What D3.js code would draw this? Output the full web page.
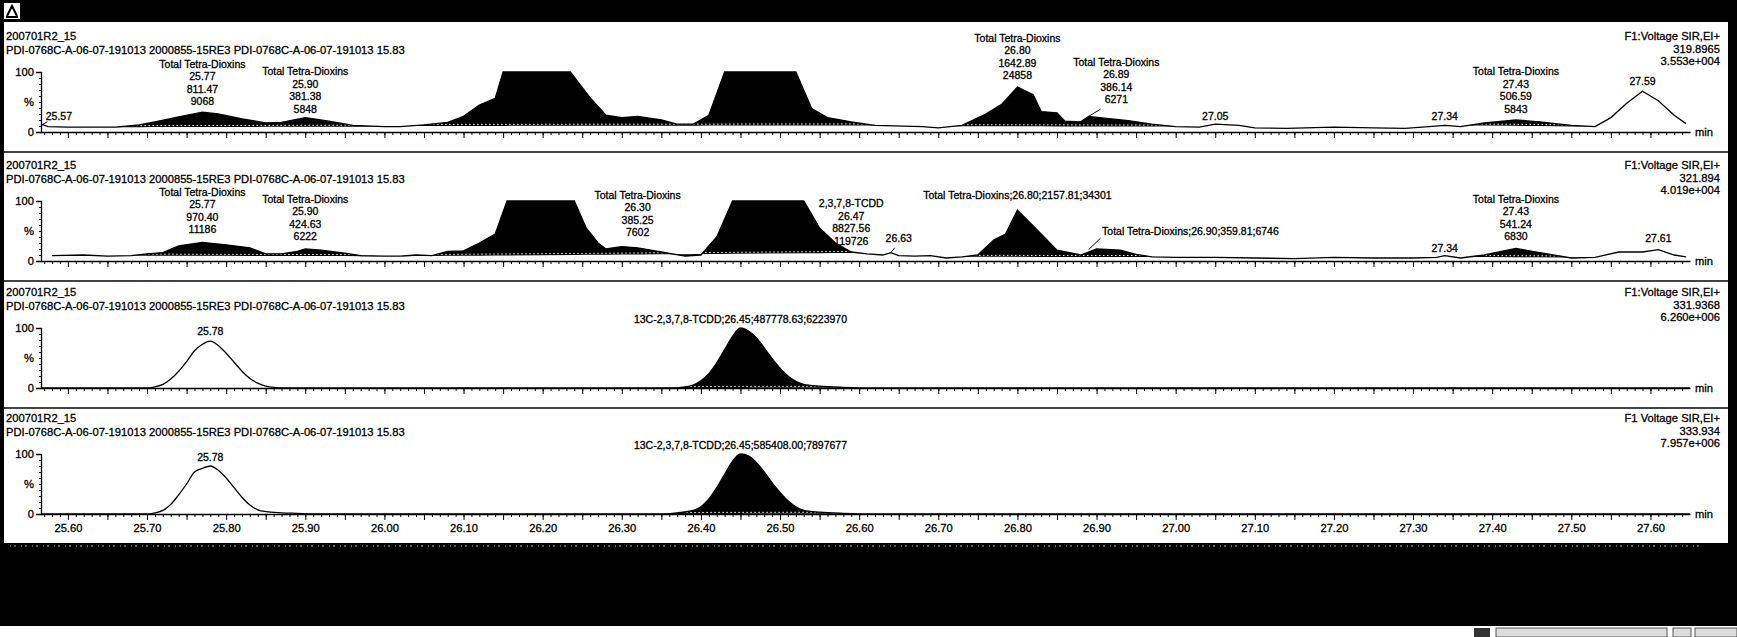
<!DOCTYPE html>
<html>
<head>
<meta charset="utf-8">
<title>SIR chromatogram - Total Tetra-Dioxins</title>
<style>
body { margin: 0; background: #fff; }
text { font-family: "Liberation Sans", Arial, sans-serif; font-size: 11.2px; fill: #000; stroke: #000; stroke-width: 0.3px; }
.pk { font-size: 10.5px; }
</style>
</head>
<body>
<svg id="chart" width="1737" height="637"></svg>

<script src="https://cdnjs.cloudflare.com/ajax/libs/d3/7.8.5/d3.min.js"></script>
<script>
// header texts
var sampleName = "200701R2_15"
var sampleDesc = "PDI-0768C-A-06-07-191013 2000855-15RE3 PDI-0768C-A-06-07-191013 15.83"
var channelNames = ["F1:Voltage SIR,EI+", "F1:Voltage SIR,EI+", "F1:Voltage SIR,EI+", "F1 Voltage SIR,EI+"]
var masses = ["319.8965", "321.894", "331.9368", "333.934"]
var maxIntensity = ["3.553e+004", "4.019e+004", "6.260e+006", "7.957e+006"]

// retention time axis (min)
var timeDomain = [25.566, 27.65]
var timeTicks = ["25.60", "25.70", "25.80", "25.90", "26.00", "26.10", "26.20", "26.30", "26.40", "26.50",
  "26.60", "26.70", "26.80", "26.90", "27.00", "27.10", "27.20", "27.30", "27.40", "27.50", "27.60"]

// traces: [time, relative intensity %]
var trace1 = [[25.566,13],[25.575,9],[25.60,8],[25.63,8],[25.66,8],[25.69,12],[25.71,17],[25.74,25],[25.77,33],
  [25.79,30],[25.82,22],[25.85,15],[25.87,16],[25.90,24],[25.93,18],[25.96,11],[26.00,9],[26.02,9],[26.05,12],
  [26.08,16],[26.10,26],[26.12,45],[26.14,56],[26.15,100],[26.235,100],[26.26,57],[26.28,28],[26.30,24],[26.32,26],
  [26.35,20],[26.37,13],[26.39,13],[26.41,28],[26.43,100],[26.52,100],[26.54,39],[26.56,24],[26.59,17],[26.62,11],
  [26.68,9],[26.70,7],[26.73,11],[26.76,30],[26.78,46],[26.80,75],[26.82,62],[26.83,34],[26.85,32],[26.86,18],
  [26.88,17],[26.89,26],[26.91,23],[26.94,19],[26.97,13],[27.00,9],[27.03,8],[27.05,13],[27.08,11],[27.10,7],
  [27.14,6],[27.20,8],[27.25,7],[27.29,6],[27.32,9],[27.34,11],[27.36,9],[27.39,15],[27.43,20],[27.46,17],
  [27.50,11],[27.53,9],[27.55,24],[27.57,48],[27.59,68],[27.61,52],[27.63,28],[27.645,14]]
var trace2 = [[25.58,9],[25.62,10],[25.65,8],[25.68,9],[25.70,12],[25.72,14],[25.74,25],[25.77,31],[25.80,27],
  [25.83,22],[25.85,12],[25.87,12],[25.89,16],[25.90,20],[25.92,18],[25.95,13],[25.97,9],[26.00,8],[26.02,8],
  [26.04,10],[26.06,9],[26.08,16],[26.10,17],[26.12,30],[26.14,45],[26.155,100],[26.24,100],[26.255,55],[26.27,30],
  [26.28,20],[26.30,24],[26.32,22],[26.35,15],[26.38,8],[26.40,10],[26.42,40],[26.44,100],[26.53,100],[26.55,55],
  [26.57,30],[26.59,15],[26.61,12],[26.63,10],[26.64,14],[26.65,9],[26.67,8],[26.69,9],[26.71,5],[26.73,7],
  [26.75,10],[26.77,35],[26.785,45],[26.80,85],[26.83,45],[26.85,18],[26.88,10],[26.90,20],[26.93,18],[26.95,11],
  [26.97,7],[27.00,6],[27.05,6],[27.10,5],[27.15,4],[27.20,6],[27.25,5],[27.30,5],[27.33,6],[27.34,9],[27.36,5],
  [27.39,10],[27.43,21],[27.46,14],[27.50,5],[27.53,6],[27.56,15],[27.59,15],[27.61,19],[27.63,10],[27.645,7]]
var trace3 = [[25.566,0],[25.70,0],[25.71,2],[25.72,6],[25.73,15],[25.74,28],[25.75,44],[25.76,62],[25.77,73],
  [25.78,78],[25.79,71],[25.80,58],[25.81,43],[25.82,28],[25.83,16],[25.84,8],[25.85,3],[25.86,1],[25.88,0],
  [26.36,0],[26.38,2],[26.39,5],[26.40,12],[26.41,24],[26.42,42],[26.43,64],[26.44,86],[26.45,100],[26.46,95],
  [26.47,84],[26.48,67],[26.49,49],[26.50,33],[26.51,20],[26.52,11],[26.53,6],[26.55,3],[26.58,1],[26.62,0],[27.65,0]]
var trace4 = [[25.566,0],[25.70,0],[25.71,2],[25.72,6],[25.73,16],[25.74,32],[25.75,50],[25.76,70],[25.77,76],
  [25.78,80],[25.79,73],[25.80,60],[25.81,44],[25.82,28],[25.83,15],[25.84,7],[25.85,4],[25.87,2],[25.89,1],[25.91,0],
  [26.35,0],[26.37,2],[26.39,6],[26.40,12],[26.41,25],[26.42,44],[26.43,66],[26.44,88],[26.45,100],[26.46,97],
  [26.47,86],[26.48,70],[26.49,52],[26.50,36],[26.51,22],[26.52,12],[26.53,6],[26.55,3],[26.58,1],[26.62,0],[27.65,0]]

// integrated (filled) time ranges
var fills1 = [[25.66, 26.00], [26.03, 26.62], [26.72, 27.00], [27.37, 27.53]]
var fills2 = [[25.68, 26.00], [26.02, 26.60], [26.73, 26.98], [27.37, 27.52]]
var fills3 = [[26.36, 26.60]]
var fills4 = [[26.35, 26.60]]

// peak annotations: t = anchor time, level = baseline of last line (%)
var labels1 = [
  {t: 25.572, level: 20, anchor: "start", lines: ["25.57"], leader: [25.567, 12, 25.574, 17]},
  {t: 25.77, level: 45, lines: ["Total Tetra-Dioxins", "25.77", "811.47", "9068"]},
  {t: 25.90, level: 32, lines: ["Total Tetra-Dioxins", "25.90", "381.38", "5848"]},
  {t: 26.80, level: 88, lines: ["Total Tetra-Dioxins", "26.80", "1642.89", "24858"]},
  {t: 26.925, level: 48, lines: ["Total Tetra-Dioxins", "26.89", "386.14", "6271"], leader: [26.89, 26, 26.905, 38]},
  {t: 27.05, level: 20, lines: ["27.05"]},
  {t: 27.34, level: 20, lines: ["27.34"]},
  {t: 27.43, level: 32, lines: ["Total Tetra-Dioxins", "27.43", "506.59", "5843"]},
  {t: 27.59, level: 78, lines: ["27.59"]}
]
var labels2 = [
  {t: 25.77, level: 46, lines: ["Total Tetra-Dioxins", "25.77", "970.40", "11186"]},
  {t: 25.90, level: 35, lines: ["Total Tetra-Dioxins", "25.90", "424.63", "6222"]},
  {t: 26.32, level: 41, lines: ["Total Tetra-Dioxins", "26.30", "385.25", "7602"]},
  {t: 26.59, level: 27, lines: ["2,3,7,8-TCDD", "26.47", "8827.56", "119726"]},
  {t: 26.65, level: 31, lines: ["26.63"], leader: [26.64, 14, 26.645, 22]},
  {t: 26.80, level: 103, lines: ["Total Tetra-Dioxins;26.80;2157.81;34301"]},
  {t: 26.907, level: 44, anchor: "start", lines: ["Total Tetra-Dioxins;26.90;359.81;6746"], leader: [26.89, 19, 26.905, 38]},
  {t: 27.34, level: 15, lines: ["27.34"]},
  {t: 27.43, level: 35, lines: ["Total Tetra-Dioxins", "27.43", "541.24", "6830"]},
  {t: 27.61, level: 31, lines: ["27.61"]}
]
var labels3 = [
  {t: 25.78, level: 89, lines: ["25.78"]},
  {t: 26.45, level: 108, lines: ["13C-2,3,7,8-TCDD;26.45;487778.63;6223970"]}
]
var labels4 = [
  {t: 25.78, level: 88, lines: ["25.78"]},
  {t: 26.45, level: 109, lines: ["13C-2,3,7,8-TCDD;26.45;585408.00;7897677"]}
]

var width = 1737, height = 637
var svg = d3.select('#chart')

var x = d3.scaleLinear().domain(timeDomain).range([41, 1690])
var panelZero = [132, 261, 388, 514]

// frame: black bars top / bottom / sides
svg.append('rect').attr('x', 0).attr('y', 0).attr('width', width).attr('height', height).attr('fill', '#fff')
svg.append('rect').attr('x', 0).attr('y', 0).attr('width', width).attr('height', 22).attr('fill', '#000')
svg.append('rect').attr('x', 4).attr('y', 3).attr('width', 16).attr('height', 16).attr('fill', '#fff')
svg.append('path').attr('d', 'M7,16 L12,6 L17,16 M6,17 L18,17').attr('stroke', '#000').attr('stroke-width', 2).attr('fill', 'none')
svg.append('rect').attr('x', 0).attr('y', 22).attr('width', 4).attr('height', 604).attr('fill', '#000')
svg.append('rect').attr('x', 1728).attr('y', 22).attr('width', 9).attr('height', 604).attr('fill', '#000')
svg.append('rect').attr('x', 0).attr('y', 543).attr('width', width).attr('height', 83).attr('fill', '#000')
svg.append('line').attr('x1', 10).attr('x2', 1700).attr('y1', 546).attr('y2', 546)
  .attr('stroke', '#fff').attr('stroke-width', 1.2).attr('stroke-dasharray', '1 3 2 5').attr('opacity', 0.7)
// status bar bits at the bottom right
svg.append('rect').attr('x', 1474).attr('y', 628).attr('width', 16).attr('height', 9).attr('fill', '#333')
svg.append('rect').attr('x', 1496).attr('y', 628).attr('width', 171).attr('height', 9).attr('fill', '#ddd').attr('stroke', '#555')
svg.append('rect').attr('x', 1673).attr('y', 628).attr('width', 18).attr('height', 9).attr('fill', '#ddd').attr('stroke', '#555')
svg.append('rect').attr('x', 1695).attr('y', 628).attr('width', 42).attr('height', 9).attr('fill', '#ddd').attr('stroke', '#555')

function interp(trace, t) {
  var i = d3.bisector(function(d) { return d[0] }).left(trace, t)
  if (i <= 0) return trace[0][1]
  if (i >= trace.length) return trace[trace.length - 1][1]
  var a = trace[i - 1], b = trace[i]
  return a[1] + (b[1] - a[1]) * (t - a[0]) / (b[0] - a[0])
}

function drawPanel(i, trace, fills, labels, curve) {
  var y0 = panelZero[i]
  var y = d3.scaleLinear().domain([0, 100]).range([y0, y0 - 60])
  var g = svg.append('g')

  // separator under the panel
  if (i < 3) {
    g.append('line').attr('x1', 4).attr('x2', 1728).attr('y1', y0 + 20).attr('y2', y0 + 20)
      .attr('stroke', '#444').attr('stroke-width', 2)
  }

  // headers
  g.append('text').attr('x', 6).attr('y', y0 - 92).text(sampleName)
  g.append('text').attr('x', 6).attr('y', y0 - 78).text(sampleDesc)
  var right = [channelNames[i], masses[i], maxIntensity[i]]
  right.forEach(function(s, k) {
    g.append('text').attr('x', 1720).attr('y', y0 - 92 + k * 12.5).attr('text-anchor', 'end').text(s)
  })

  // integrated areas
  fills.forEach(function(r) {
    var a = r[0], b = r[1]
    var va = interp(trace, a), vb = interp(trace, b)
    var pts = [[a, va]].concat(trace.filter(function(d) { return d[0] > a && d[0] < b }), [[b, vb]])
    var base = function(t) { return va + (vb - va) * (t - a) / (b - a) }
    g.append('path').datum(pts)
      .attr('d', d3.area().x(function(d) { return x(d[0]) })
        .y0(function(d) { return y(base(d[0])) })
        .y1(function(d) { return y(d[1]) }).curve(curve))
      .attr('fill', '#000')
    g.append('line').attr('x1', x(a) + 1).attr('x2', x(b) - 1)
      .attr('y1', y(va) - 1.5).attr('y2', y(vb) - 1.5)
      .attr('stroke', '#fff').attr('stroke-width', 1).attr('stroke-dasharray', '1.5 2.5')
  })

  // trace
  g.append('path').datum(trace)
    .attr('d', d3.line().x(function(d) { return x(d[0]) }).y(function(d) { return y(d[1]) }).curve(curve))
    .attr('fill', 'none').attr('stroke', '#000').attr('stroke-width', 1.3)

  // x axis: minor, major and labels
  var minor = d3.axisBottom(x).tickValues(d3.range(2557, 2765).map(function(v) { return v / 100 }))
    .tickSize(3).tickSizeOuter(0).tickFormat('')
  var ga = g.append('g').attr('transform', 'translate(0,' + y0 + ')').call(minor)
  ga.select('.domain').attr('stroke-width', 1.5)
  var major = d3.axisBottom(x).tickValues(d3.range(2560, 2765, 5).map(function(v) { return v / 100 }))
    .tickSize(6).tickSizeOuter(0).tickFormat('')
  var gb = g.append('g').attr('transform', 'translate(0,' + y0 + ')').call(major)
  gb.select('.domain').remove()
  if (i === 3) {
    var lab = d3.axisBottom(x).tickValues(timeTicks.map(Number)).tickSize(0).tickPadding(10)
      .tickFormat(function(d, k) { return timeTicks[k] })
    var gl = g.append('g').attr('transform', 'translate(0,' + y0 + ')').call(lab)
    gl.select('.domain').remove()
  }
  g.append('text').attr('x', 1695).attr('y', y0 + 4).text('min')

  // y axis
  var yMinor = d3.axisLeft(y).tickValues(d3.range(0, 101, 10)).tickSize(2).tickFormat('')
  g.append('g').attr('transform', 'translate(41,0)').call(yMinor)
  var yMajor = d3.axisLeft(y).tickValues([0, 100]).tickSize(5).tickPadding(2)
  var gy = g.append('g').attr('transform', 'translate(41,0)').call(yMajor)
  gy.select('.domain').attr('stroke-width', 1.3)
  g.append('text').attr('x', 34).attr('y', y(50) + 4).attr('text-anchor', 'end').text('%')

  // peak labels
  labels.forEach(function(l) {
    var bx = x(l.t), by = y(l.level)
    l.lines.forEach(function(s, k) {
      g.append('text').attr('class', 'pk').attr('x', bx)
        .attr('y', by - (l.lines.length - 1 - k) * 12.5)
        .attr('text-anchor', l.anchor || 'middle').text(s)
    })
    if (l.leader) {
      g.append('line').attr('x1', x(l.leader[0])).attr('y1', y(l.leader[1]))
        .attr('x2', x(l.leader[2])).attr('y2', y(l.leader[3]))
        .attr('stroke', '#000').attr('stroke-width', 1)
    }
  })
}

drawPanel(0, trace1, fills1, labels1, d3.curveLinear)
drawPanel(1, trace2, fills2, labels2, d3.curveLinear)
drawPanel(2, trace3, fills3, labels3, d3.curveMonotoneX)
drawPanel(3, trace4, fills4, labels4, d3.curveMonotoneX)
</script>
</body>
</html>
